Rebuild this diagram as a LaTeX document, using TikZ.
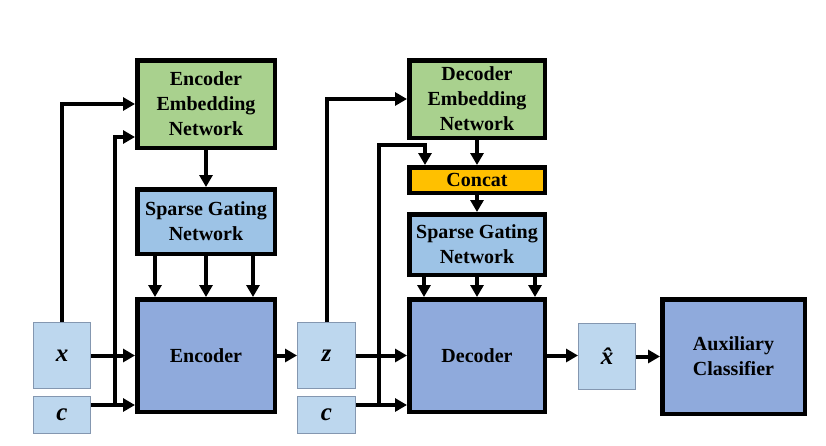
\documentclass[tikz,border=0pt]{standalone}
\usepackage{fontspec}
\setmainfont{Liberation Serif}
\usetikzlibrary{arrows.meta}
\definecolor{embgreen}{HTML}{A9D18E}
\definecolor{gateblue}{HTML}{9DC3E6}
\definecolor{mainblue}{HTML}{8FAADC}
\definecolor{inblue}{HTML}{BDD7EE}
\definecolor{inborder}{HTML}{8497B0}
\definecolor{concatc}{HTML}{FFC000}
\tikzset{
  bigbox/.style={draw=black, line width=4.5pt, inner sep=0pt, align=center,
    font=\fontsize{20}{25}\selectfont\bfseries},
  inbox/.style={draw=inborder, line width=1pt, fill=inblue, inner sep=0pt,
    font=\fontsize{25}{25}\selectfont\bfseries\itshape},
  arr/.style={line width=4pt, -{Triangle[length=12pt,width=13pt]}}
}
\begin{document}
\begin{tikzpicture}[x=1pt,y=-1pt]
\useasboundingbox (0,0) rectangle (826,445);
% encoder side
\node[bigbox, fill=embgreen, minimum width=137.5pt, minimum height=87.5pt] (eemb) at (206,104) {Encoder\\Embedding\\Network};
\node[bigbox, fill=gateblue, minimum width=137.5pt, minimum height=64.5pt] (egate) at (206,221.5) {Sparse Gating\\Network};
\node[bigbox, fill=mainblue, minimum width=137.5pt, minimum height=112.5pt] (enc) at (206,355.5) {Encoder};
\node[inbox, minimum width=57pt, minimum height=66pt] (xin) at (62,355.5) {x};
\node[inbox, minimum width=57pt, minimum height=37pt] (cin1) at (62,415) {c};
% decoder side
\node[bigbox, fill=embgreen, minimum width=135.5pt, minimum height=77.5pt] (demb) at (477,99) {Decoder\\Embedding\\Network};
\node[bigbox, fill=concatc, minimum width=135.5pt, minimum height=25.5pt] (concat) at (477,180) {Concat};
\node[bigbox, fill=gateblue, minimum width=135.5pt, minimum height=60.5pt] (dgate) at (477,244.5) {Sparse Gating\\Network};
\node[bigbox, fill=mainblue, minimum width=135.5pt, minimum height=112.5pt] (dec) at (477,355.5) {Decoder};
\node[inbox, minimum width=58pt, minimum height=66pt] (zin) at (326.5,355.5) {z};
\node[inbox, minimum width=58pt, minimum height=37pt] (cin2) at (326.5,415) {c};
% output side
\node[inbox, minimum width=57pt, minimum height=66pt] (xhat) at (607,356.5) {x̂};
\node[bigbox, fill=mainblue, minimum width=142.5pt, minimum height=114.5pt] (aux) at (733.5,356.5) {Auxiliary\\Classifier};
% encoder connectors
\coordinate (j1) at (115,405);
\draw[arr] (xin.north) |- (eemb.west);
\draw[arr] ([yshift=10pt]cin1.east) -- (enc.west |- j1);
\draw[arr] (j1) |- ([yshift=-33pt]eemb.west);
\draw[arr] (eemb.south) -- (egate.north);
\draw[arr] ([xshift=-51pt]egate.south) -- ([xshift=-51pt]enc.north);
\draw[arr] (egate.south) -- (enc.north);
\draw[arr] ([xshift=47pt]egate.south) -- ([xshift=47pt]enc.north);
\draw[arr] (xin.east) -- (enc.west |- xin.east);
\draw[arr] (enc.east) -- (zin.west |- enc.east);
% decoder connectors
\coordinate (j2) at (379,405);
\coordinate (k2) at (379,145);
\draw[arr] (zin.north) |- (demb.west);
\draw[arr] ([yshift=10pt]cin2.east) -- (dec.west |- j2);
\draw[arr] (j2) -- (k2) -| ([xshift=-52pt]concat.north);
\draw[arr] (demb.south) -- (concat.north);
\draw[arr] (concat.south) -- (dgate.north);
\draw[arr] ([xshift=-53pt]dgate.south) -- ([xshift=-53pt]dec.north);
\draw[arr] (dgate.south) -- (dec.north);
\draw[arr] ([xshift=58pt]dgate.south) -- ([xshift=58pt]dec.north);
\draw[arr] (zin.east) -- (dec.west |- zin.east);
\draw[arr] (dec.east) -- (xhat.west |- dec.east);
\draw[arr] (xhat.east) -- (aux.west |- xhat.east);
\end{tikzpicture}
\end{document}
